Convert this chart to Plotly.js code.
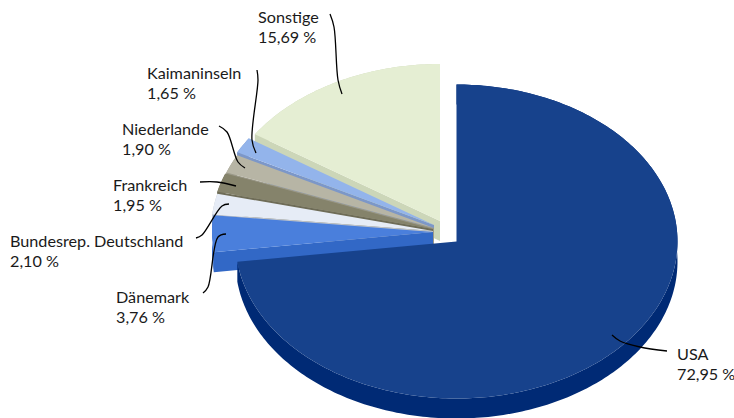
<!DOCTYPE html>
<html><head><meta charset="utf-8">
<script src="https://cdn.plot.ly/plotly-3.0.1.min.js"></script>
<style>html,body{margin:0;padding:0;background:#fff}#c{width:734px;height:418px}</style>
</head><body><div id="c"></div>
<script>
// Data, clockwise from 12 o'clock
const categories = ["USA","Dänemark","Bundesrep. Deutschland","Frankreich","Niederlande","Kaimaninseln","Sonstige"];
const shares = [72.95,3.76,2.10,1.95,1.90,1.65,15.69];
const valueLabels = ["72,95 %","3,76 %","2,10 %","1,95 %","1,90 %","1,65 %","15,69 %"];
// Styles
const topColors  = ["#17428C","#4A7FDC","#E6ECF6","#85836B","#B7B5A5","#93B4EB","#E5EED3"];
const wallColors = ["#002A75","#3268C6","#BFC4CC","#6E6C57","#9A9888","#7C97C8","#CCD6B8"];
// Exploded slice apex positions on the page-sized axes
const apexX = [456.5,433,433,433,434,434,440];
const apexY = [241.5,232,231,229,228,225,221];
const radiusX = [221,221,222,222,222,222,222], radiusY = 157, depth = 20;
const labelX = [676,115,9,112,121,146,257];
const labelY = [353,296,240,184,128,72,16];
const lineGap = 20;
const leaders = [
  [[667,351],[640,347],[620,341],[612,335]],
  [[203,293],[208,287],[218,237],[226,234]],
  [[196,238],[202,235],[222,206],[229,204]],
  [[200,182],[217,182],[236,186]],
  [[219,126],[227,132],[238,162],[245,168]],
  [[257,70],[258,80],[252,140],[256,153]],
  [[330,14],[334,27],[338,80],[342,94]]
];

const total = shares.reduce((a,b)=>a+b,0);
let acc = 0;
const starts = shares.map(v=>{const s=acc/total*2*Math.PI; acc+=v; return s;});
const ends = shares.map((v,i)=>starts[i]+v/total*2*Math.PI);
function rim(i,t,dy){return [apexX[i]+radiusX[i]*Math.sin(t), apexY[i]-radiusY*Math.cos(t)+dy];}
function arc(i,dy){
  const pts=[], n=Math.max(4,Math.ceil((ends[i]-starts[i])/(Math.PI/180)));
  for(let k=0;k<=n;k++) pts.push(rim(i,starts[i]+(ends[i]-starts[i])*k/n,dy));
  return pts;
}
function poly(pts,color,name){
  const closed=pts.concat([pts[0]]);
  return {type:"scatter",mode:"lines",x:closed.map(p=>p[0]),y:closed.map(p=>p[1]),fill:"toself",fillcolor:color,
    line:{width:0,color:color,simplify:false},hoverinfo:"skip",showlegend:false,name:name};
}
const traces=[];
[6,5,4,3,2,1,0].forEach(i=>{
  const a=[apexX[i],apexY[i]], s=rim(i,starts[i],0), sb=rim(i,starts[i],depth);
  traces.push(poly([a,s,sb,[a[0],a[1]+depth]],wallColors[i],categories[i]+" Kante"));
  traces.push(poly(arc(i,0).concat(arc(i,depth).reverse()),wallColors[i],categories[i]+" Rand"));
  traces.push(poly([a].concat(arc(i,0)),topColors[i],categories[i]));
});
leaders.forEach(l=>traces.push({type:"scatter",mode:"lines",x:l.map(p=>p[0]),y:l.map(p=>p[1]),
  line:{color:"#000",width:1.3,shape:"spline",smoothing:1},hoverinfo:"skip",showlegend:false}));

const labelFont={family:"Lato, sans-serif",size:16.2,color:"#1a1a1a"};
const annotations=[];
categories.forEach((c,i)=>{
  [c,valueLabels[i]].forEach((t,k)=>annotations.push({x:labelX[i],y:labelY[i]+k*lineGap,xref:"x",yref:"y",
    xanchor:"left",yanchor:"middle",text:t,showarrow:false,align:"left",font:labelFont,borderpad:0}));
});

Plotly.newPlot("c",traces,{
  width:734,height:418,margin:{l:0,r:0,t:0,b:0},paper_bgcolor:"#fff",plot_bgcolor:"#fff",showlegend:false,
  xaxis:{range:[0,734],visible:false,fixedrange:true},
  yaxis:{range:[418,0],visible:false,fixedrange:true},
  annotations:annotations
},{displayModeBar:false,staticPlot:true});
</script></body></html>
